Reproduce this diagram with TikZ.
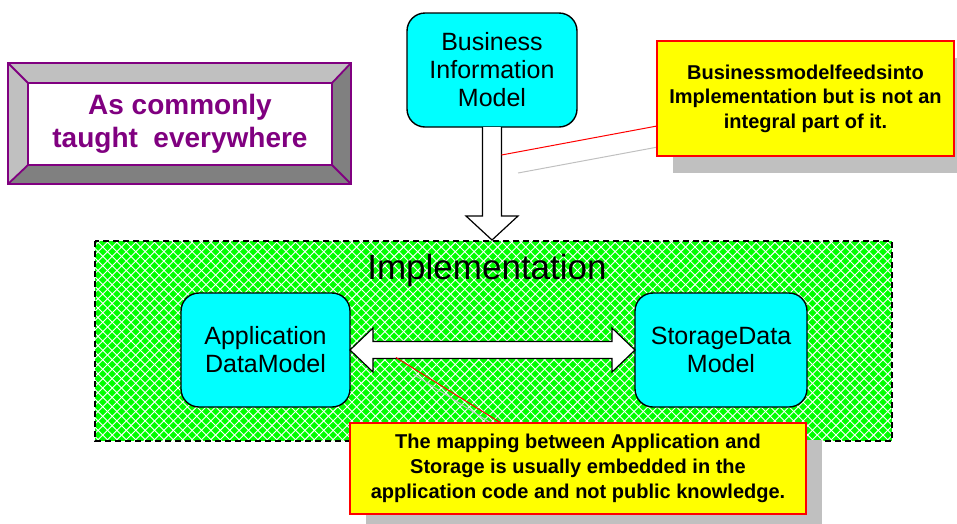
\documentclass[tikz,border=0pt]{standalone}
\usepackage{fontspec}
\setmainfont{Liberation Sans}
\usetikzlibrary{calc,shadows}
\definecolor{cyanfill}{HTML}{00FFFF}
\definecolor{hatchgreen}{HTML}{00FF00}
\definecolor{notey}{HTML}{FFFF00}
\definecolor{shadowgray}{HTML}{C0C0C0}
\definecolor{bevlight}{HTML}{C0C0C0}
\definecolor{bevdark}{HTML}{808080}
\definecolor{purp}{HTML}{800080}
\begin{document}
\begin{tikzpicture}[x=1pt,y=-1pt,
  modelbox/.style={draw=black, line width=1.4pt, fill=cyanfill, rounded corners=18pt,
    align=center, inner sep=0pt, outer sep=0pt, font=\fontsize{25}{28}\selectfont},
  notebox/.style={draw=red, line width=1.3pt, fill=notey, align=center, inner sep=0pt,
    outer sep=0pt, font=\bfseries\fontsize{20}{24.5}\selectfont,
    drop shadow={shadow xshift=16pt, shadow yshift=-17pt, fill=shadowgray, opacity=1}},
  hollowarrow/.style={draw=black, line width=1.2pt, fill=white, line join=miter},
  calloutline/.style={draw=red, line width=1pt},
  calloutshadow/.style={draw=shadowgray, line width=1pt},
  bevelline/.style={draw=purp, line width=1.8pt},
  hatchline/.style={draw=white, line width=0.9pt},
  dashedborder/.style={draw=black, line width=1.3pt, dash pattern=on 6pt off 4pt}]
\useasboundingbox (0,0) rectangle (957,523);

% bevelled frame
\fill[bevlight] (8,63) -- (351,63) -- (332,83) -- (28,83) -- (28,165) -- (8,184) -- cycle;
\fill[bevdark] (351,63) -- (351,184) -- (8,184) -- (28,165) -- (332,165) -- (332,83) -- cycle;
\draw[bevelline] (8,63) rectangle (351,184);
\draw[bevelline] (8,63) -- (28,83) (351,63) -- (332,83) (8,184) -- (28,165) (351,184) -- (332,165);
\node[bevelline, fill=white, minimum width=304pt, minimum height=82pt, inner sep=0pt,
  align=center, text=purp, font=\bfseries\fontsize{28}{33}\selectfont] (taught) at (180,124)
  {As commonly\\taught\ \ everywhere};

% implementation area
\begin{scope}
  \clip (95,241) rectangle (892,441);
  \fill[hatchgreen] (95,241) rectangle (892,441);
  \foreach \i in {0,...,130} {
    \draw[hatchline] ({\i*9.4-110},441) -- ({\i*9.4+90},241);
    \draw[hatchline] ({\i*9.4-110},241) -- ({\i*9.4+90},441);
  }
\end{scope}
\draw[dashedborder] (95,241) rectangle (892,441);
\node[font=\fontsize{35}{40}\selectfont, inner sep=0pt] (impltitle) at (487,270) {Implementation};

% model boxes
\node[modelbox, minimum width=170pt, minimum height=114pt] (bim) at (492,70) {Business\\Information\\Model};
\node[modelbox, minimum width=169pt, minimum height=114pt] (app) at (265.5,350) {Application\\DataModel};
\node[modelbox, minimum width=172pt, minimum height=114pt] (sto) at (721,350) {StorageData\\Model};

% down arrow
\coordinate (dtip) at (492,240);
\draw[hollowarrow] ($(bim.south)+(-9.5,0)$) -- ($(bim.south)+(-9.5,89)$) -- ($(bim.south)+(-26,89)$)
  -- (dtip) -- ($(bim.south)+(26,89)$) -- ($(bim.south)+(9.5,89)$) -- ($(bim.south)+(9.5,0)$);

% double arrow
\draw[hollowarrow] (app.east) -- ++(23,-22) -- ++(0,13.5) -- ($(sto.west)+(-23,-8.5)$) -- ++(0,-13.5)
  -- (sto.west) -- ++(-23,22) -- ++(0,-13.5) -- ($(app.east)+(23,8.5)$) -- ++(0,13.5) -- cycle;

% callout shadows
\draw[calloutshadow] (518,173) -- (674,144);
\draw[calloutshadow] (413,374) -- (518,440);

% notes
\node[notebox, minimum width=297pt, minimum height=115pt] (note1) at (805.5,98.5)
  {Businessmodelfeedsinto\\Implementation but is not an\\integral part of it.};
\node[notebox, font=\bfseries\fontsize{20}{25}\selectfont, minimum width=456pt, minimum height=91pt] (note2) at (578,468.5)
  {The mapping between Application and\\Storage is usually embedded in the\\application code and not public knowledge.};

% callout lines
\coordinate (c1) at ($(bim.south)+(9.5,28)$);
\coordinate (c2) at ($(app.east)+(46,7.5)$);
\draw[calloutline] (c1) -- ($(note1.west)+(0,27.5)$);
\draw[calloutline] (c2) -- ($(note2.north west)+(151,0)$);
\end{tikzpicture}
\end{document}
